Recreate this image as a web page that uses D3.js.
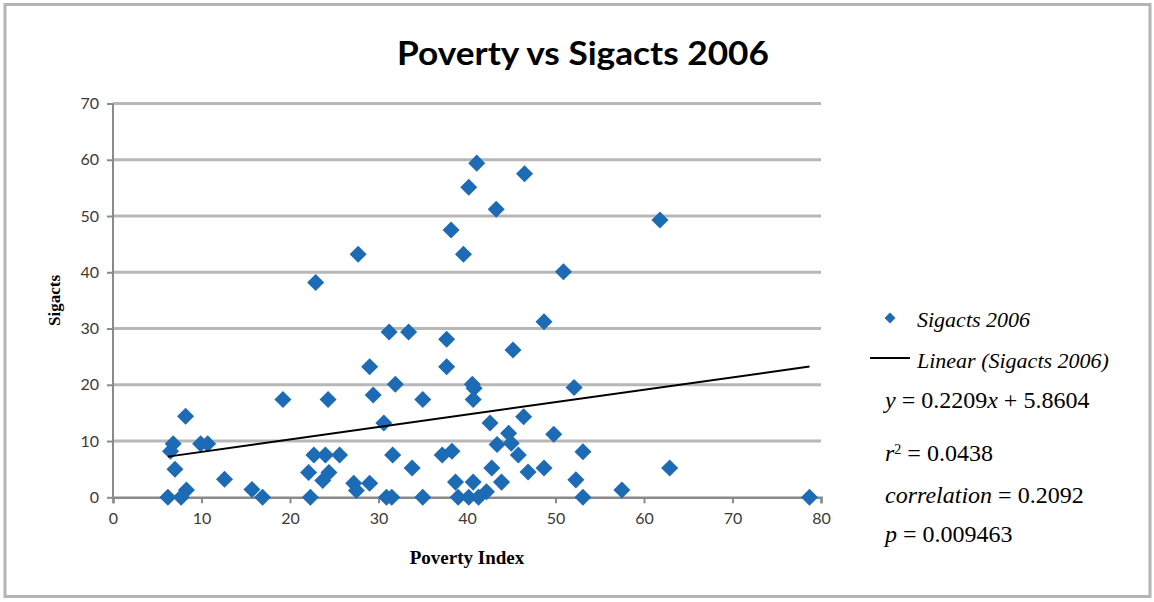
<!DOCTYPE html>
<html>
<head>
<meta charset="utf-8">
<script src="https://cdn.jsdelivr.net/npm/d3@7"></script>
<style>
  html, body { margin: 0; padding: 0; background: #fff; }
  svg { display: block; }
</style>
</head>
<body>
<svg id="chart" width="1154" height="602"></svg>
<script>
// Poverty index per district against number of significant acts (2006)
const povertyIndex = [
  6.2, 6.5, 6.8, 7.0, 7.7, 8.3, 8.2, 9.9, 10.7, 12.6,
  15.7, 16.9, 19.2, 22.3, 22.1, 22.7, 24.0, 25.6, 24.3, 23.7,
  24.4, 27.2, 27.5, 29.0, 27.7, 22.9, 29.0, 29.4, 30.6, 31.2,
  31.9, 33.4, 30.9, 31.5, 31.6, 33.8, 35.0, 35.0, 37.7, 37.7,
  38.2, 39.6, 37.2, 38.3, 38.7, 39.0, 40.2, 40.7, 41.3, 42.2,
  43.9, 40.6, 40.8, 40.7, 41.1, 40.2, 43.3, 46.5, 42.6, 42.8,
  43.4, 44.7, 45.0, 45.8, 46.4, 45.2, 46.9, 48.7, 48.7, 49.8,
  50.9, 52.1, 52.3, 53.1, 53.1, 57.5, 61.8, 62.9, 78.7
];
const sigacts = [
  0, 8.2, 9.5, 5.0, 0, 1.3, 14.4, 9.5, 9.5, 3.2,
  1.4, 0, 17.4, 0, 4.4, 7.5, 7.5, 7.5, 17.4, 3.0,
  4.4, 2.5, 1.2, 2.5, 43.2, 38.2, 23.2, 18.2, 13.2, 29.4,
  20.1, 29.4, 0, 0, 7.5, 5.2, 17.4, 0, 28.1, 23.2,
  47.5, 43.2, 7.5, 8.2, 2.7, 0, 0, 2.7, 0, 1.0,
  2.7, 20.1, 19.4, 17.4, 59.4, 55.1, 51.2, 57.5, 13.2, 5.2,
  9.4, 11.4, 9.6, 7.5, 14.3, 26.2, 4.5, 5.2, 31.2, 11.2,
  40.1, 19.5, 3.1, 8.1, 0, 1.3, 49.3, 5.2, 0
];

// Fitted line and statistics shown in the legend
const slope = 0.2209;
const intercept = 5.8604;
const rSquared = "0.0438";
const correlation = "0.2092";
const pValue = "0.009463";

const xTicks = [0, 10, 20, 30, 40, 50, 60, 70, 80];
const yTicks = [0, 10, 20, 30, 40, 50, 60, 70];

const svg = d3.select("#chart");
const W = 1154, H = 602;
const plot = { left: 113, right: 821, top: 103.5, bottom: 497.3 };

const x = d3.scaleLinear().domain([0, 80]).range([plot.left, plot.right]);
const y = d3.scaleLinear().domain([0, 70]).range([plot.bottom, plot.top]);

const blue = "#1c6bb4";
const tickFont = "Lato, 'Open Sans', sans-serif";
const serif = "'Liberation Serif', 'Times New Roman', serif";

// outer chart frame
svg.append("rect")
  .attr("x", 5).attr("y", 4.5).attr("width", W - 9).attr("height", H - 10)
  .attr("fill", "#fff").attr("stroke", "#b4b4b4").attr("stroke-width", 3);

// title
svg.append("text")
  .attr("x", 583).attr("y", 65)
  .attr("text-anchor", "middle")
  .attr("font-family", "Lato, 'Open Sans', sans-serif")
  .attr("font-weight", "bold")
  .attr("font-size", 33)
  .attr("textLength", 372)
  .attr("lengthAdjust", "spacingAndGlyphs")
  .attr("fill", "#000")
  .text("Poverty vs Sigacts 2006");

// horizontal gridlines with left tick marks
const yAxis = svg.append("g")
  .attr("transform", `translate(${plot.left},0)`)
  .call(d3.axisLeft(y).tickValues(yTicks).tickSize(6).tickPadding(8).tickFormat(d3.format("d")));
yAxis.select(".domain").remove();
yAxis.selectAll(".tick line").attr("stroke", "#8a8a8a").attr("stroke-width", 2);
yAxis.selectAll(".tick text")
  .attr("font-family", tickFont).attr("font-size", 16).attr("fill", "#3a3a3a");

svg.append("g")
  .selectAll("line")
  .data(yTicks.filter(d => d > 0))
  .join("line")
  .attr("x1", plot.left).attr("x2", plot.right)
  .attr("y1", d => y(d)).attr("y2", d => y(d))
  .attr("stroke", "#b7b7b7").attr("stroke-width", 3);

// vertical axis line
svg.append("line")
  .attr("x1", plot.left).attr("x2", plot.left)
  .attr("y1", plot.top).attr("y2", plot.bottom)
  .attr("stroke", "#8a8a8a").attr("stroke-width", 2);

// horizontal axis
const xAxis = svg.append("g")
  .attr("transform", `translate(0,${plot.bottom})`)
  .call(d3.axisBottom(x).tickValues(xTicks).tickSize(6).tickPadding(9).tickFormat(d3.format("d")));
xAxis.select(".domain").attr("stroke", "#8a8a8a").attr("stroke-width", 2.5);
xAxis.selectAll(".tick line").attr("stroke", "#8a8a8a").attr("stroke-width", 2);
xAxis.selectAll(".tick text")
  .attr("font-family", tickFont).attr("font-size", 16).attr("fill", "#3a3a3a");

// axis titles
svg.append("text")
  .attr("x", (plot.left + plot.right) / 2).attr("y", 564)
  .attr("text-anchor", "middle")
  .attr("font-family", serif).attr("font-weight", "bold").attr("font-size", 19)
  .attr("fill", "#000")
  .text("Poverty Index");

svg.append("text")
  .attr("transform", `translate(60,${(plot.top + plot.bottom) / 2}) rotate(-90)`)
  .attr("text-anchor", "middle")
  .attr("font-family", serif).attr("font-weight", "bold").attr("font-size", 17)
  .attr("fill", "#000")
  .text("Sigacts");

// scatter points as diamonds
const points = povertyIndex.map((p, i) => ({ p, s: sigacts[i] }));
const diamond = d3.symbol().type(d3.symbolSquare).size(145);
svg.append("g")
  .selectAll("path")
  .data(points)
  .join("path")
  .attr("d", diamond)
  .attr("transform", d => `translate(${x(d.p)},${y(d.s)}) rotate(45)`)
  .attr("fill", blue);

// linear trend over the data range
const [xMin, xMax] = d3.extent(povertyIndex);
svg.append("line")
  .attr("x1", x(xMin)).attr("y1", y(slope * xMin + intercept))
  .attr("x2", x(xMax)).attr("y2", y(slope * xMax + intercept))
  .attr("stroke", "#000").attr("stroke-width", 2);

// legend
const lg = svg.append("g");
lg.append("path")
  .attr("d", d3.symbol().type(d3.symbolSquare).size(60))
  .attr("transform", "translate(890,318) rotate(45)")
  .attr("fill", blue);
lg.append("text")
  .attr("x", 917).attr("y", 327)
  .attr("font-family", serif).attr("font-style", "italic").attr("font-size", 22)
  .attr("fill", "#000")
  .text("Sigacts 2006");
lg.append("line")
  .attr("x1", 870).attr("x2", 910).attr("y1", 358).attr("y2", 358)
  .attr("stroke", "#000").attr("stroke-width", 2);
lg.append("text")
  .attr("x", 917).attr("y", 368)
  .attr("font-family", serif).attr("font-style", "italic").attr("font-size", 22)
  .attr("fill", "#000")
  .text("Linear (Sigacts 2006)");

// regression statistics
function statLine(yPos, parts) {
  const t = lg.append("text")
    .attr("x", 885).attr("y", yPos)
    .attr("font-family", serif).attr("font-size", 24).attr("fill", "#000");
  parts.forEach(pt => {
    const ts = t.append("tspan").text(pt.t);
    if (pt.i) ts.attr("font-style", "italic");
    if (pt.sup) ts.attr("font-size", 14).attr("baseline-shift", "super");
  });
}
statLine(408, [{ t: "y", i: true }, { t: " = " + slope + "" }, { t: "x", i: true }, { t: " + " + intercept }]);
statLine(461, [{ t: "r", i: true }, { t: "2", sup: true }, { t: " = " + rSquared }]);
statLine(503, [{ t: "correlation", i: true }, { t: " = " + correlation }]);
statLine(542, [{ t: "p", i: true }, { t: " = " + pValue }]);
</script>
</body>
</html>
